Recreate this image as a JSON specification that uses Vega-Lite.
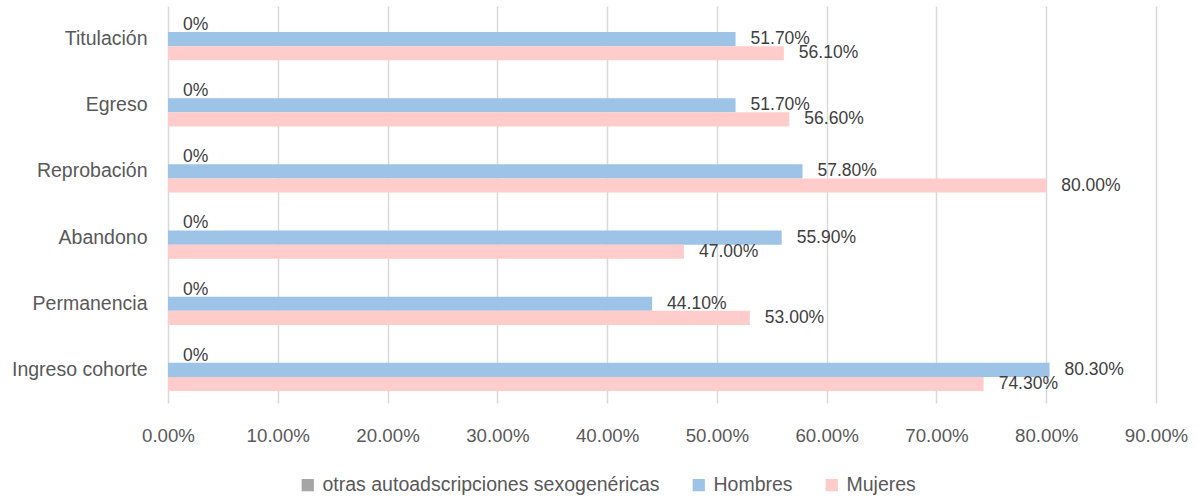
{
  "$schema": "https://vega.github.io/schema/vega-lite/v6.json",
  "width": 988,
  "height": 397,
  "autosize": {"type": "none"},
  "padding": {"left": 168, "top": 6, "right": 42, "bottom": 97},
  "background": "white",
  "config": {
    "font": "Liberation Sans",
    "view": {"stroke": null}
  },
  "data": {
    "values": [
      {"etapa": "Titulación", "serie": "otras autoadscripciones sexogenéricas", "valor": 0, "etiqueta": "0%"},
      {"etapa": "Titulación", "serie": "Hombres", "valor": 0.517, "etiqueta": "51.70%"},
      {"etapa": "Titulación", "serie": "Mujeres", "valor": 0.561, "etiqueta": "56.10%"},
      {"etapa": "Egreso", "serie": "otras autoadscripciones sexogenéricas", "valor": 0, "etiqueta": "0%"},
      {"etapa": "Egreso", "serie": "Hombres", "valor": 0.517, "etiqueta": "51.70%"},
      {"etapa": "Egreso", "serie": "Mujeres", "valor": 0.566, "etiqueta": "56.60%"},
      {"etapa": "Reprobación", "serie": "otras autoadscripciones sexogenéricas", "valor": 0, "etiqueta": "0%"},
      {"etapa": "Reprobación", "serie": "Hombres", "valor": 0.578, "etiqueta": "57.80%"},
      {"etapa": "Reprobación", "serie": "Mujeres", "valor": 0.80, "etiqueta": "80.00%"},
      {"etapa": "Abandono", "serie": "otras autoadscripciones sexogenéricas", "valor": 0, "etiqueta": "0%"},
      {"etapa": "Abandono", "serie": "Hombres", "valor": 0.559, "etiqueta": "55.90%"},
      {"etapa": "Abandono", "serie": "Mujeres", "valor": 0.47, "etiqueta": "47.00%"},
      {"etapa": "Permanencia", "serie": "otras autoadscripciones sexogenéricas", "valor": 0, "etiqueta": "0%"},
      {"etapa": "Permanencia", "serie": "Hombres", "valor": 0.441, "etiqueta": "44.10%"},
      {"etapa": "Permanencia", "serie": "Mujeres", "valor": 0.53, "etiqueta": "53.00%"},
      {"etapa": "Ingreso cohorte", "serie": "otras autoadscripciones sexogenéricas", "valor": 0, "etiqueta": "0%"},
      {"etapa": "Ingreso cohorte", "serie": "Hombres", "valor": 0.803, "etiqueta": "80.30%"},
      {"etapa": "Ingreso cohorte", "serie": "Mujeres", "valor": 0.743, "etiqueta": "74.30%"}
    ]
  },
  "encoding": {
    "y": {
      "field": "etapa",
      "type": "nominal",
      "sort": ["Titulación", "Egreso", "Reprobación", "Abandono", "Permanencia", "Ingreso cohorte"],
      "scale": {"paddingInner": 0.36, "paddingOuter": 0.18},
      "axis": {
        "title": null,
        "ticks": false,
        "domain": false,
        "labelFontSize": 19.5,
        "labelColor": "#595959",
        "labelPadding": 21,
        "labelFont": "Liberation Sans"
      }
    },
    "yOffset": {
      "field": "serie",
      "type": "nominal",
      "sort": ["otras autoadscripciones sexogenéricas", "Hombres", "Mujeres"],
      "scale": {"paddingInner": 0, "paddingOuter": 0}
    },
    "x": {
      "field": "valor",
      "type": "quantitative",
      "scale": {"domain": [0, 0.9], "nice": false},
      "axis": {
        "title": null,
        "format": ".2%",
        "values": [0, 0.1, 0.2, 0.3, 0.4, 0.5, 0.6, 0.7, 0.8, 0.9],
        "ticks": false,
        "domain": false,
        "grid": true,
        "gridColor": "#D9D9D9",
        "gridWidth": 1.5,
        "labelFlush": false,
        "labelOverlap": false,
        "labelFontSize": 18.7,
        "labelColor": "#595959",
        "labelPadding": 23,
        "labelFont": "Liberation Sans"
      }
    }
  },
  "layer": [
    {
      "mark": {"type": "bar"},
      "encoding": {
        "color": {
          "field": "serie",
          "type": "nominal",
          "sort": ["otras autoadscripciones sexogenéricas", "Hombres", "Mujeres"],
          "scale": {
            "domain": ["otras autoadscripciones sexogenéricas", "Hombres", "Mujeres"],
            "range": ["#A5A5A5", "#9DC3E6", "#FFCCCC"]
          },
          "legend": {
            "title": null,
            "orient": "none",
            "direction": "horizontal",
            "legendX": 130,
            "legendY": 469,
            "symbolType": "square",
            "symbolSize": 150,
            "symbolStrokeWidth": 0,
            "labelFontSize": 19.5,
            "labelColor": "#595959",
            "labelFont": "Liberation Sans",
            "labelLimit": 0,
            "columnPadding": 29,
            "labelOffset": 5
          }
        }
      }
    },
    {
      "mark": {"type": "text", "align": "left", "baseline": "middle", "dx": 15, "fontSize": 17.5, "color": "#404040", "font": "Liberation Sans"},
      "encoding": {
        "text": {"field": "etiqueta", "type": "nominal"}
      }
    }
  ]
}
